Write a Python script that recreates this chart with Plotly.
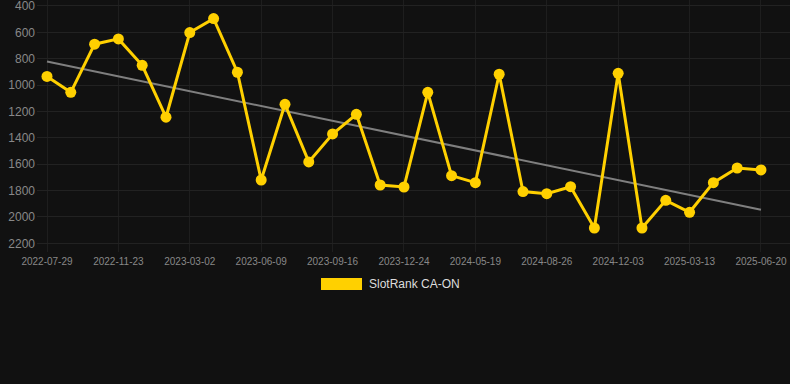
import plotly.graph_objects as go

tick_labels = ["2022-07-29", "2022-11-23", "2023-03-02", "2023-06-09", "2023-09-16",
               "2023-12-24", "2024-05-19", "2024-08-26", "2024-12-03", "2025-03-13",
               "2025-06-20"]
ranks = [935, 1055, 690, 650, 850, 1244, 602, 496, 903, 1720,
         1146, 1583, 1371, 1222, 1758, 1773, 1055, 1687, 1740, 918,
         1808, 1824, 1771, 2084, 911, 2084, 1874, 1965, 1740, 1629, 1644]
trend_ends = [822, 1945]
series_name = "SlotRank CA-ON"

idx = list(range(len(ranks)))
tick_idx = idx[::3]

W, H = 790, 384
L, R, T, B = 37, 0, 0, 132
pw, ph = W - L - R, H - T - B

def px_x(p):
    return (p - L) / pw

def px_y(p):
    return (H - B - p) / ph

fig = go.Figure()
fig.add_trace(go.Scatter(x=[idx[0], idx[-1]], y=trend_ends, mode="lines",
                         line=dict(color="#7f7f7f", width=2), hoverinfo="skip",
                         showlegend=False))
fig.add_trace(go.Scatter(x=idx, y=ranks, mode="lines+markers", name=series_name,
                         line=dict(color="#FFD000", width=3),
                         marker=dict(color="#FFD000", size=11),
                         showlegend=False))

fig.add_shape(type="rect", xref="paper", yref="paper",
              x0=px_x(321), x1=px_x(362), y0=px_y(290), y1=px_y(278),
              fillcolor="#FFD000", line=dict(width=0))
fig.add_annotation(text=series_name, xref="paper", yref="paper",
                   x=px_x(367), y=px_y(284), xanchor="left", yanchor="middle",
                   showarrow=False, font=dict(size=12, color="#dddddd"))

fig.update_layout(
    width=W, height=H,
    margin=dict(l=L, r=R, t=T, b=B),
    paper_bgcolor="#111111", plot_bgcolor="#111111",
    font=dict(family="Liberation Sans, Arial, sans-serif"),
    showlegend=False,
)
fig.update_xaxes(
    range=[-0.42, 31.22], tickvals=tick_idx, ticktext=tick_labels,
    tickfont=dict(size=10, color="#888888"), showgrid=True,
    gridcolor="#1e1e1e", gridwidth=1, zeroline=False, showline=False,
    ticks="", ticklabelstandoff=2, ticklabeloverflow="allow",
)
fig.update_yaxes(
    range=[2266, 355], tickvals=[400, 600, 800, 1000, 1200, 1400, 1600, 1800, 2000, 2200],
    tickfont=dict(size=12, color="#888888"), showgrid=True,
    gridcolor="#222222", gridwidth=1, zeroline=False, showline=False, ticks="",
    ticklabelstandoff=1, ticklabeloverflow="allow",
)
fig.write_html("out.html", config={"displayModeBar": False},
               post_script="document.body.style.margin='0px';document.body.style.background='#111111';")
